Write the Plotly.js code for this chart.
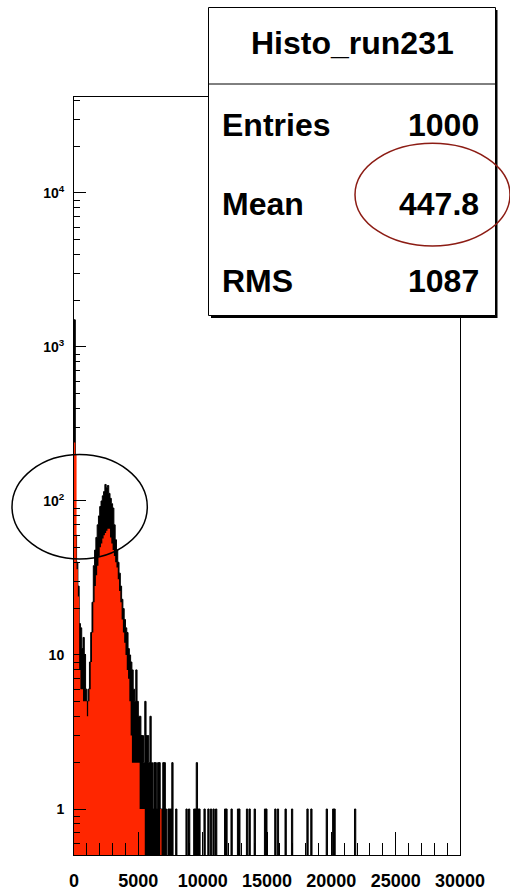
<!DOCTYPE html>
<html>
<head>
<meta charset="utf-8">
<script src="https://cdn.plot.ly/plotly-3.0.1.min.js"></script>
<style>
  html, body { margin: 0; padding: 0; background: #fff; }
  #chart { width: 510px; height: 894px; }
</style>
</head>
<body>
<div id="chart"></div>
<script>
// Histogram binning (ADC units)
const BIN_WIDTH = 100;

// Black histogram (drawn filled, underneath): counts per 100-unit bin starting at 0
const blackCounts = [
  1500, 60, 40, 28, 16, 15, 11, 13, 10, 6, 5, 6, 9, 14, 22, 38, 48, 58, 70, 80,
  92, 100, 108, 115, 128, 122, 126, 112, 104, 96, 90, 70, 56, 48, 40, 34, 28, 23, 20, 17,
  15, 14, 11, 10, 9, 8, 6, 5, 8, 5, 4, 4, 3, 3, 2, 5, 3, 3, 2, 4,
  2, 1, 2, 2, 1, 2, 2, 1, 1, 2, 2, 1, 0, 1, 1, 1, 2, 0, 0, 1,
  0, 0, 0, 0, 0, 0, 0, 1, 0, 1, 0, 0, 0, 1, 1, 2, 1, 1, 0, 0,
  0, 1, 0, 0, 1, 0, 1, 0, 1, 0, 1, 0, 0, 0, 0, 0, 0, 1, 1, 0,
  0, 0, 1, 0, 0, 0, 0, 1, 1, 0, 0, 0, 0, 0, 1, 0, 1, 0, 0, 0,
  1, 0, 0, 0, 0, 0, 0, 0, 1, 1, 0, 0, 0, 0, 0, 0, 1, 0, 1, 0,
  0, 0, 0, 0, 1, 0, 0, 0, 0, 1, 0, 0, 0, 0, 0, 0, 0, 0, 0, 0,
  0, 1, 0, 0, 1, 0, 0, 0, 0, 0, 0, 0, 0, 0, 0, 0, 1, 0, 0, 0,
  0, 1, 1, 0, 0, 0, 0, 0, 0, 0, 0, 0, 0, 0, 0, 0, 0, 0, 1, 0
];

// Red histogram (drawn filled, on top): counts per 100-unit bin starting at 0
const redCounts = [
  240, 200, 36, 24, 8, 6, 6, 5, 5, 5, 4, 5, 6, 9, 14, 22, 28, 33, 38, 44,
  50, 53, 57, 60, 62, 64, 66, 66, 58, 53, 48, 44, 40, 37, 31, 26, 22, 17, 14, 12,
  10, 8, 7, 5, 3, 2, 2, 2, 2, 2, 2, 1, 1, 1, 1, 0, 0, 0, 0, 0,
  0, 0, 0, 0, 0, 0, 0, 1, 0, 0
];

// Axis ticks
const xTickVals = [0, 5000, 10000, 15000, 20000, 25000, 30000];
const xTickText = ['0', '5000', '10000', '15000', '20000', '25000', '30000'];
const yTickVals = [1, 10, 100, 1000, 10000];
const yTickText = ['1', '10', '10<sup>2</sup>', '10<sup>3</sup>', '10<sup>4</sup>'];

// Statistics box content
const statsTitle = 'Histo_run231';
const statsNames = ['Entries', 'Mean', 'RMS'];
const statsValues = ['1000', '447.8', '1087'];

// Empty bins sit below the visible log range so their edges run off the bottom.
const FLOOR = 0.1;

function stepPath(counts) {
  const xs = [0], ys = [FLOOR];
  counts.forEach((c, i) => {
    xs.push(i * BIN_WIDTH);
    ys.push(c > 0 ? c : FLOOR);
  });
  const last = counts[counts.length - 1];
  xs.push(counts.length * BIN_WIDTH); ys.push(last > 0 ? last : FLOOR);
  xs.push(counts.length * BIN_WIDTH); ys.push(FLOOR);
  return { xs, ys };
}

const red = stepPath(redCounts);
const black = stepPath(blackCounts);

const FONT = 'Liberation Sans, Arial, Helvetica, sans-serif';
const RED = 'rgb(255,38,0)';

const traces = [
  {
    type: 'scatter', mode: 'lines',
    x: black.xs, y: black.ys,
    line: { shape: 'hv', width: 1, color: '#000', simplify: false },
    fill: 'toself', fillcolor: '#000',
    hoverinfo: 'skip', showlegend: false
  },
  {
    type: 'scatter', mode: 'lines',
    x: red.xs, y: red.ys,
    line: { shape: 'hv', width: 0, color: RED, simplify: false },
    fill: 'toself', fillcolor: RED,
    hoverinfo: 'skip', showlegend: false
  }
];

// Pixel helpers for the paper-referenced overlay (plot area 74..460 x 97..855)
const L = 74, T = 97, W = 386, H = 758;
const px = v => (v - L) / W;
const py = v => (T + H - v) / H;

const yMinor = [];
for (let d = -1; d <= 4; d++) for (let k = 2; k <= 9; k++) yMinor.push(k * Math.pow(10, d));

const shapes = [
  // stats box shadow and box
  { type: 'rect', xref: 'paper', yref: 'paper', x0: px(211), x1: px(497.5), y0: py(318), y1: py(10),
    fillcolor: '#000', line: { width: 0 }, layer: 'above' },
  { type: 'rect', xref: 'paper', yref: 'paper', x0: px(208.5), x1: px(495.5), y0: py(315.5), y1: py(7.5),
    fillcolor: '#fff', line: { width: 1, color: '#000' }, layer: 'above' },
  { type: 'line', xref: 'paper', yref: 'paper', x0: px(208.5), x1: px(495.5), y0: py(84), y1: py(84),
    line: { width: 1, color: '#000' }, layer: 'above' },
  // highlight rings
  { type: 'circle', xref: 'paper', yref: 'paper', x0: px(12), x1: px(147.3), y0: py(559), y1: py(454.5),
    line: { width: 1.5, color: '#000' }, layer: 'above' },
  { type: 'circle', xref: 'paper', yref: 'paper', x0: px(355), x1: px(510), y0: py(246), y1: py(143.3),
    line: { width: 1.5, color: 'rgb(140,28,20)' }, layer: 'above' }
];

const annotations = [
  { text: '<b>' + statsTitle + '</b>', xref: 'paper', yref: 'paper', x: px(352), y: py(43),
    xanchor: 'center', yanchor: 'middle', showarrow: false, font: { family: FONT, size: 32, color: '#000' } }
];
const rowY = [125.5, 204, 281];
statsNames.forEach((name, i) => {
  annotations.push({ text: '<b>' + name + '</b>', xref: 'paper', yref: 'paper', x: px(220), y: py(rowY[i]),
    xanchor: 'left', yanchor: 'middle', showarrow: false, font: { family: FONT, size: 32, color: '#000' } });
  annotations.push({ text: '<b>' + statsValues[i] + '</b>', xref: 'paper', yref: 'paper', x: px(481), y: py(rowY[i]),
    xanchor: 'right', yanchor: 'middle', showarrow: false, font: { family: FONT, size: 32, color: '#000' } });
});

const layout = {
  width: 510, height: 894,
  margin: { l: 74, r: 50, t: 97, b: 39 },
  paper_bgcolor: '#fff', plot_bgcolor: '#fff',
  showlegend: false,
  xaxis: {
    range: [0, 30000],
    tickmode: 'array', tickvals: xTickVals, ticktext: xTickText,
    ticks: 'inside', ticklen: 23, tickwidth: 1, tickcolor: '#000',
    minor: { dtick: 1000, tick0: 0, ticks: 'inside', ticklen: 12, tickwidth: 1, tickcolor: '#000', showgrid: false },
    showline: true, linecolor: '#000', linewidth: 1, mirror: true,
    showgrid: false, zeroline: false,
    tickfont: { family: FONT, size: 18, color: '#000', weight: 'bold' },
    ticklabelstandoff: 9
  },
  yaxis: {
    type: 'log',
    range: [-0.2987, 4.623],
    tickmode: 'array', tickvals: yTickVals, ticktext: yTickText,
    ticks: 'inside', ticklen: 12, tickwidth: 1, tickcolor: '#000',
    minor: { tickmode: 'array', tickvals: yMinor, ticks: 'inside', ticklen: 6, tickwidth: 1, tickcolor: '#000', showgrid: false },
    showline: true, linecolor: '#000', linewidth: 1, mirror: true,
    showgrid: false, zeroline: false,
    tickfont: { family: FONT, size: 14, color: '#000', weight: 'bold' },
    ticklabelstandoff: 6
  },
  shapes: shapes,
  annotations: annotations
};

Plotly.newPlot('chart', traces, layout, { staticPlot: true, displayModeBar: false });
</script>
</body>
</html>
